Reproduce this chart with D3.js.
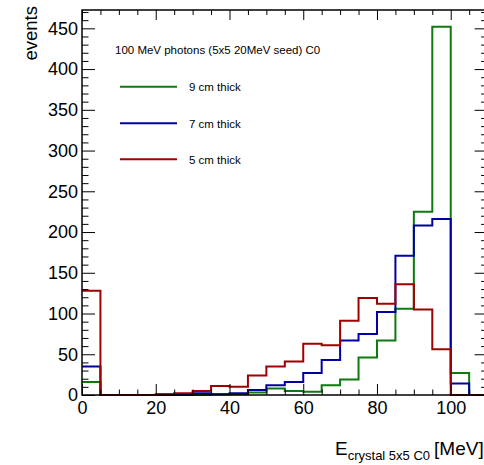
<!DOCTYPE html>
<html>
<head>
<meta charset="utf-8">
<script src="https://cdn.jsdelivr.net/npm/d3@7"></script>
<style>
  body { margin: 0; background: #fff; }
  svg { display: block; font-family: "Liberation Sans", Arial, sans-serif; }
</style>
</head>
<body>
<div id="chart"></div>
<script>
// bin edges: 0..110 in steps of 5
const binEdges = d3.range(0, 115, 5);
// counts per bin
const thick9 = [16, 0, 0, 0, 1, 0, 0, 1, 1, 3, 8, 5, 4, 12, 19, 46, 67, 106, 225, 452, 27, 0];
const thick7 = [35, 0, 0, 0, 0, 0, 2, 1, 2, 6, 12, 16, 27, 43, 67, 75, 102, 171, 208, 216, 14, 0];
const thick5 = [128, 0, 0, 0, 1, 2, 5, 11, 10, 24, 35, 41, 63, 61, 91, 119, 112, 136, 105, 56, 0, 0];

const seriesNames = ['9 cm thick', '7 cm thick', '5 cm thick'];
const seriesColors = ['#0e7a0e', '#0000a2', '#a00000'];
const seriesValues = [thick9, thick7, thick5];

const xMajor = [0, 20, 40, 60, 80, 100];
const yMajor = [0, 50, 100, 150, 200, 250, 300, 350, 400, 450];

const legendTitle = '100 MeV photons (5x5 20MeV seed) C0';

const width = 484, height = 465;
const x = d3.scaleLinear().domain([0, 110]).range([82, 487.6]);
const y = d3.scaleLinear().domain([0, 472.5]).range([395, 10]);

const svg = d3.select('#chart').append('svg')
    .attr('width', width)
    .attr('height', height);

// histogramlar
const line = d3.line()
    .x(d => x(d[0]))
    .y(d => y(d[1]))
    .curve(d3.curveStepAfter);

seriesValues.forEach((vals, i) => {
    const pts = vals.map((v, k) => [binEdges[k], v]);
    pts.push([binEdges[vals.length], vals[vals.length - 1]]);
    svg.append('path')
        .datum(pts)
        .attr('fill', 'none')
        .attr('stroke', seriesColors[i])
        .attr('stroke-width', 2)
        .attr('d', line);
});

// eksenler
const xMinor = d3.range(0, 115, 5).filter(v => v % 20 !== 0);
const yMinor = d3.range(0, 480, 10).filter(v => v % 50 !== 0);

function tickAxis(gen, values, size, pad) {
    return gen.tickValues(values).tickSizeInner(size).tickSizeOuter(0).tickPadding(pad);
}

// bottom
svg.append('g').attr('transform', `translate(0,${y(0)})`)
    .call(tickAxis(d3.axisBottom(x), xMinor, -5.5, 0).tickFormat(''));
svg.append('g').attr('class', 'xmaj').attr('transform', `translate(0,${y(0)})`)
    .call(tickAxis(d3.axisBottom(x), xMajor, -11, 6).tickFormat(d3.format('d')));
// top
svg.append('g').attr('transform', `translate(0,${y(472.5)})`)
    .call(tickAxis(d3.axisTop(x), xMinor, -5, 0).tickFormat(''));
svg.append('g').attr('transform', `translate(0,${y(472.5)})`)
    .call(tickAxis(d3.axisTop(x), xMajor, -10, 0).tickFormat(''));
// left
svg.append('g').attr('transform', `translate(${x(0)},0)`)
    .call(tickAxis(d3.axisLeft(y), yMinor, -6.5, 0).tickFormat(''));
svg.append('g').attr('class', 'ymaj').attr('transform', `translate(${x(0)},0)`)
    .call(tickAxis(d3.axisLeft(y), yMajor, -13, 4).tickFormat(d3.format('d')));
// right
svg.append('g').attr('transform', `translate(${x(110)},0)`)
    .call(tickAxis(d3.axisRight(y), yMinor, -6.5, 0).tickFormat(''));
svg.append('g').attr('transform', `translate(${x(110)},0)`)
    .call(tickAxis(d3.axisRight(y), yMajor, -13, 0).tickFormat(''));

svg.selectAll('.domain').remove();
svg.selectAll('.tick line').attr('stroke', '#000').attr('stroke-width', 1);
svg.selectAll('.tick text')
    .attr('fill', '#000')
    .style('font-size', '18px')
    .style('font-family', '"Liberation Sans", Arial, sans-serif');

// frame
svg.append('rect')
    .attr('x', x(0)).attr('y', y(472.5))
    .attr('width', x(110) - x(0)).attr('height', y(0) - y(472.5))
    .attr('fill', 'none').attr('stroke', '#000').attr('stroke-width', 1.5);

// legend
svg.append('text')
    .attr('x', 115).attr('y', 54)
    .style('font-size', '11.5px')
    .text(legendTitle);

const legendY = [86.7, 123.3, 159.3];
seriesNames.forEach((name, i) => {
    svg.append('line')
        .attr('x1', 120).attr('x2', 177)
        .attr('y1', legendY[i]).attr('y2', legendY[i])
        .attr('stroke', seriesColors[i]).attr('stroke-width', 2);
    svg.append('text')
        .attr('x', 189).attr('y', legendY[i] + 4.2)
        .style('font-size', '11.5px')
        .text(name);
});

// axis titles
svg.append('text')
    .attr('transform', 'translate(37,6) rotate(-90)')
    .attr('text-anchor', 'end')
    .style('font-size', '18.5px')
    .text('events');

const xt = svg.append('text')
    .attr('x', 335).attr('y', 455)
    .style('font-size', '19px');
xt.append('tspan').text('E');
xt.append('tspan').attr('dy', 5).style('font-size', '13px').text('crystal 5x5 C0');
xt.append('tspan').attr('dy', -5).attr('dx', 4).text('[MeV]');
</script>
</body>
</html>
